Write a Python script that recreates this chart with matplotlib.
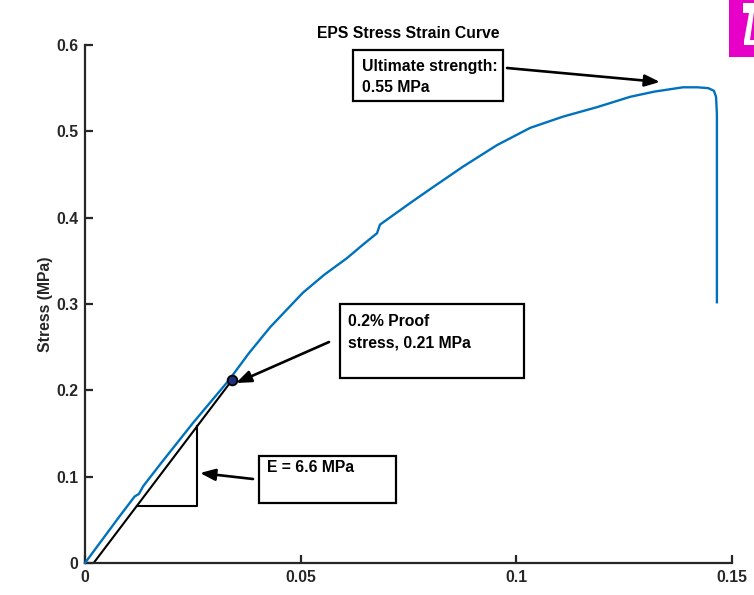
import matplotlib
matplotlib.use('Agg')
import matplotlib.pyplot as plt
from matplotlib.patches import Rectangle, Polygon

# Plot config
DPI = 100
WIDTH = 754
HEIGHT = 595
BLUE = '#0072BD'
AXCOL = '#262626'
FS = 11.3
plt.rcParams['font.family'] = ['Liberation Sans', 'DejaVu Sans']
plt.rcParams['font.weight'] = 'bold'

# Data
strain = [0, 0.004, 0.008, 0.0115, 0.0125, 0.0135, 0.018, 0.025, 0.0334,
          0.038, 0.0429, 0.0505, 0.0555, 0.0607, 0.0645, 0.0677, 0.0684,
          0.0754, 0.080, 0.0876, 0.0955, 0.1032, 0.1108, 0.1187, 0.1264,
          0.1320, 0.1386, 0.1420, 0.1445, 0.1458, 0.1463, 0.1465, 0.1465]
stress = [0, 0.027, 0.054, 0.077, 0.080, 0.089, 0.118, 0.162, 0.212,
          0.243, 0.273, 0.313, 0.334, 0.353, 0.369, 0.382, 0.392,
          0.417, 0.433, 0.459, 0.484, 0.504, 0.517, 0.528, 0.540,
          0.546, 0.551, 0.551, 0.550, 0.547, 0.540, 0.52, 0.302]

E_MOD = 6.6          # MPa
OFFSET = 0.002       # 0.2 % offset
PROOF = 0.212        # MPa
TRI_X = [0.012, 0.026]

xticks = [0, 0.05, 0.1, 0.15]
xlabels = ['0', '0.05', '0.1', '0.15']
yticks = [0, 0.1, 0.2, 0.3, 0.4, 0.5, 0.6]
ylabels = ['0', '0.1', '0.2', '0.3', '0.4', '0.5', '0.6']


def px(x, y):
    # image pixel (top-left origin) -> figure pixels
    return (x, HEIGHT - y)


fig = plt.figure(figsize=(WIDTH / DPI, HEIGHT / DPI), dpi=DPI)
ax = fig.add_axes([85 / WIDTH, 32 / HEIGHT, 647 / WIDTH, 518 / HEIGHT])

ax.plot(strain, stress, color=BLUE, lw=1.7, clip_on=False, zorder=3)

# offset line up to proof point
proof_x = PROOF / E_MOD + OFFSET
ax.plot([OFFSET, proof_x], [0, PROOF], color='black', lw=1.5, zorder=2)
ax.plot([proof_x], [PROOF], 'o', ms=7, mfc='#1f2f7a', mec='black', mew=1.3, zorder=4)

# slope triangle
t0 = E_MOD * (TRI_X[0] - OFFSET)
t1 = E_MOD * (TRI_X[1] - OFFSET)
ax.plot([TRI_X[0], TRI_X[1], TRI_X[1]], [t0, t0, t1], color='black', lw=1.5)

ax.set_xlim(0, 0.15)
ax.set_ylim(0, 0.6)
ax.set_xticks(xticks)
ax.set_xticklabels(xlabels)
ax.set_yticks(yticks)
ax.set_yticklabels(ylabels)
for s in ['top', 'right']:
    ax.spines[s].set_visible(False)
for s in ['left', 'bottom']:
    ax.spines[s].set_color(AXCOL)
    ax.spines[s].set_linewidth(1.6)
ax.tick_params(direction='in', length=6, width=1.6, color=AXCOL,
               labelsize=FS, labelcolor=AXCOL, pad=5)
ax.set_ylabel('Stress (MPa)', fontsize=FS, fontweight='bold', color=AXCOL, labelpad=2)
ax.set_title('EPS Stress Strain Curve', fontsize=FS, fontweight='bold', pad=5)

# annotation boxes
boxes = [
    ((353, 50, 503, 101), ['Ultimate strength:', '0.55 MPa'], 362, [66, 88]),
    ((340, 304, 524, 378), ['0.2% Proof', 'stress, 0.21 MPa'], 348, [322, 343]),
    ((259, 456, 396, 503), ['E = 6.6 MPa'], 267, [467]),
]
for (x0, y0, x1, y1), lines, tx, tys in boxes:
    r = Rectangle(px(x0, y1), x1 - x0, y1 - y0, transform=None,
                  fill=False, ec='black', lw=1.6)
    fig.patches.append(r)
    for line, ty in zip(lines, tys):
        fig.text(tx / WIDTH, 1 - ty / HEIGHT, line, fontsize=FS, fontweight='bold',
                 va='center', ha='left')

arrows = [((507, 68), (660, 82)), ((329, 342), (236, 383)), ((253, 479), (200, 473))]
for tail, head in arrows:
    ax.annotate('', xy=px(*head), xycoords='figure pixels',
                xytext=px(*tail), textcoords='figure pixels',
                arrowprops=dict(arrowstyle='-|>,head_length=0.9,head_width=0.35',
                                lw=1.9, color='black', shrinkA=0, shrinkB=0))

# cropped magenta panel label in the corner
fig.patches.append(Rectangle(px(729, 57), 30, 57, transform=None,
                             fc='#e600c8', ec='none'))
fig.patches.append(Polygon([px(743, 3), px(754, 3), px(754, 12), px(750, 40),
                            px(754, 40), px(754, 45), px(744, 45), px(744, 41),
                            px(749, 13), px(743, 13)],
                           closed=True, transform=None, fc='white', ec='none'))

plt.savefig('out.png', dpi=DPI)
